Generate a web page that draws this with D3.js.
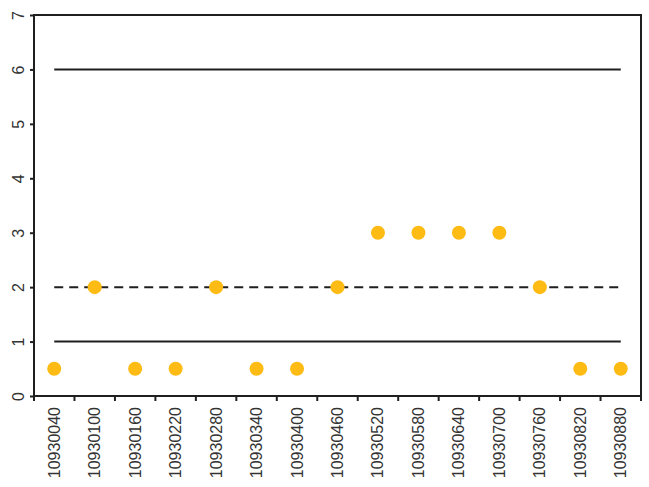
<!DOCTYPE html>
<html>
<head>
<meta charset="utf-8">
<script src="https://cdn.jsdelivr.net/npm/d3@7"></script>
<style>
  body { margin: 0; background: #fff; }
  text { font-family: "Liberation Sans", Arial, sans-serif; }
</style>
</head>
<body>
<svg id="chart" width="649" height="487"></svg>
<script>
// data
var categories = ['10930040', '10930100', '10930160', '10930220', '10930280', '10930340', '10930400',
  '10930460', '10930520', '10930580', '10930640', '10930700', '10930760', '10930820', '10930880']
var values = [0.5, 2, 0.5, 0.5, 2, 0.5, 0.5, 2, 3, 3, 3, 3, 2, 0.5, 0.5]
var upperLimit = 6
var lowerLimit = 1
var centerLine = 2
var yTicks = [0, 1, 2, 3, 4, 5, 6, 7]

// layout
var margin = { top: 15, right: 8, bottom: 91, left: 34 }
var width = 649, height = 487
var colorDot = '#fdbb13'
var colorLine = '#1f1f1f'

var svg = d3.select('#chart')

var x = d3.scaleBand()
  .domain(categories)
  .range([margin.left, width - margin.right])

var y = d3.scaleLinear()
  .domain([0, 7])
  .range([height - margin.bottom, margin.top])

// limit lines
function hline(v, dashed) {
  svg.append('line')
    .attr('x1', x(categories[0]) + x.bandwidth() / 2)
    .attr('x2', x(categories[categories.length - 1]) + x.bandwidth() / 2)
    .attr('y1', y(v))
    .attr('y2', y(v))
    .attr('stroke', colorLine)
    .attr('stroke-width', 2)
    .attr('stroke-dasharray', dashed ? '9,6' : null)
}
hline(upperLimit, false)
hline(lowerLimit, false)
hline(centerLine, true)

// points
svg.selectAll('circle.pt')
  .data(values)
  .enter().append('circle')
  .attr('class', 'pt')
  .attr('cx', function (d, i) { return x(categories[i]) + x.bandwidth() / 2 })
  .attr('cy', function (d) { return y(d) })
  .attr('r', 7)
  .attr('fill', colorDot)

// frame
svg.append('rect')
  .attr('x', margin.left)
  .attr('y', margin.top)
  .attr('width', width - margin.left - margin.right)
  .attr('height', height - margin.top - margin.bottom)
  .attr('fill', 'none')
  .attr('stroke', colorLine)
  .attr('stroke-width', 2)

// y axis
var yAxis = svg.append('g')
  .attr('transform', 'translate(' + margin.left + ',0)')
  .call(d3.axisLeft(y).tickValues(yTicks).tickSize(4).tickSizeOuter(0).tickFormat(d3.format('d')))
yAxis.select('.domain').remove()
yAxis.selectAll('line').attr('stroke', colorLine).attr('stroke-width', 2)
yAxis.selectAll('text')
  .attr('font-size', 16)
  .attr('fill', '#333')
  .attr('text-anchor', 'middle')
  .attr('dy', null)
  .attr('x', null)
  .attr('transform', 'translate(-16,0) rotate(-90)')
  .attr('dominant-baseline', 'central')

// x axis: ticks at band boundaries
var xAxisG = svg.append('g')
  .attr('transform', 'translate(0,' + (height - margin.bottom) + ')')
var boundaries = categories.map(function (c) { return x(c) }).concat([width - margin.right])
xAxisG.selectAll('line.tk')
  .data(boundaries)
  .enter().append('line')
  .attr('class', 'tk')
  .attr('x1', function (d) { return d })
  .attr('x2', function (d) { return d })
  .attr('y1', 0)
  .attr('y2', 5)
  .attr('stroke', colorLine)
  .attr('stroke-width', 2)

xAxisG.selectAll('text.lbl')
  .data(categories)
  .enter().append('text')
  .attr('class', 'lbl')
  .attr('transform', function (d) {
    return 'translate(' + (x(d) + x.bandwidth() / 2) + ',11) rotate(-90)'
  })
  .attr('text-anchor', 'end')
  .attr('dominant-baseline', 'central')
  .attr('font-size', 16)
  .attr('fill', '#333')
  .text(function (d) { return d })
</script>
</body>
</html>
